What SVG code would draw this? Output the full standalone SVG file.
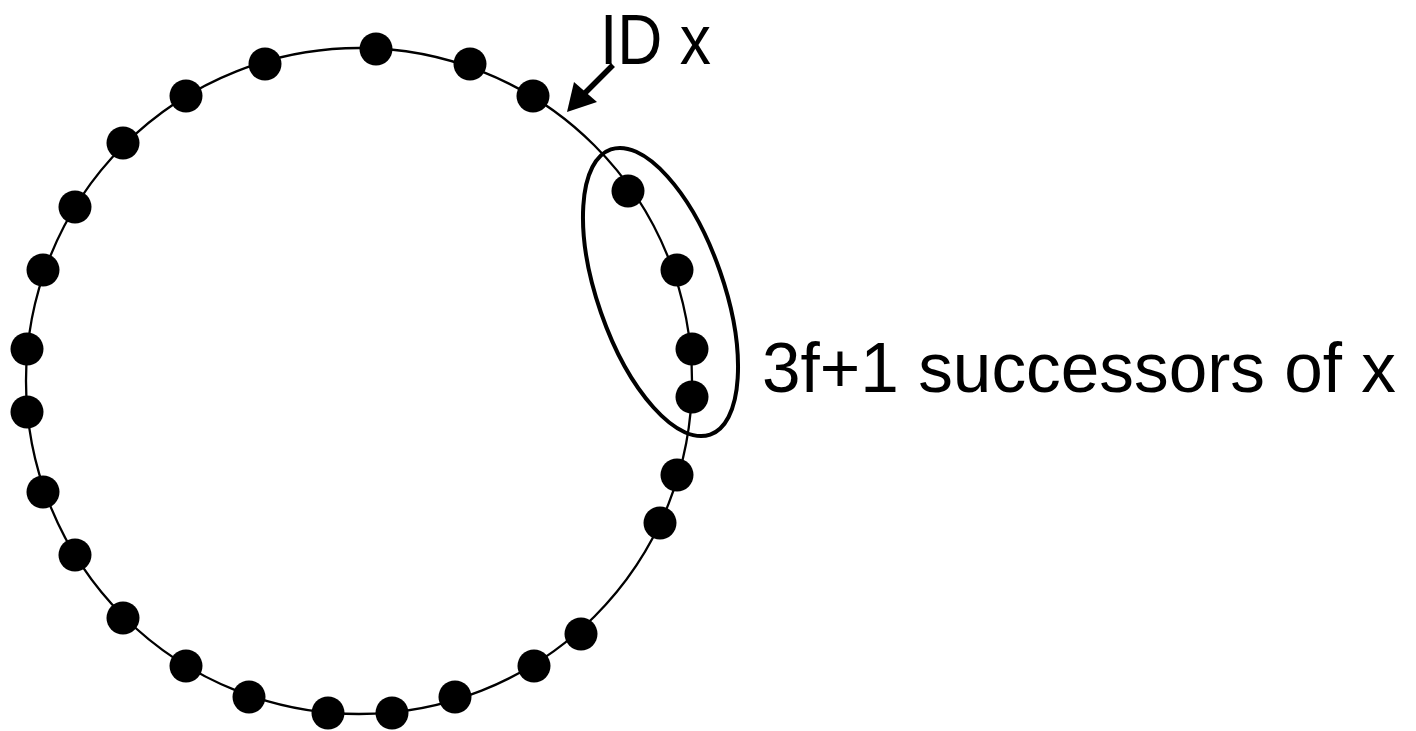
<svg xmlns="http://www.w3.org/2000/svg" width="1416" height="731" viewBox="0 0 1416 731">
<style>
.ring{fill:none;stroke:#000;stroke-width:2.3}
.dot{fill:#000}
.lbl{font-family:"Liberation Sans",Arial,sans-serif;fill:#000}
</style>
<rect width="1416" height="731" fill="#fff"/>
<g id="ring">
<circle class="ring" cx="359" cy="381" r="333"/>
</g>
<g id="nodes">
<circle class="dot" cx="376" cy="49" r="16.5"/>
<circle class="dot" cx="265" cy="64" r="16.5"/>
<circle class="dot" cx="470" cy="64" r="16.5"/>
<circle class="dot" cx="186" cy="96" r="16.5"/>
<circle class="dot" cx="533" cy="96" r="16.5"/>
<circle class="dot" cx="123" cy="143" r="16.5"/>
<circle class="dot" cx="75" cy="207" r="16.5"/>
<circle class="dot" cx="43" cy="270" r="16.5"/>
<circle class="dot" cx="27" cy="349" r="16.5"/>
<circle class="dot" cx="27" cy="412" r="16.5"/>
<circle class="dot" cx="43" cy="492" r="16.5"/>
<circle class="dot" cx="75" cy="555" r="16.5"/>
<circle class="dot" cx="123" cy="618" r="16.5"/>
<circle class="dot" cx="186" cy="666" r="16.5"/>
<circle class="dot" cx="249" cy="697" r="16.5"/>
<circle class="dot" cx="328" cy="713" r="16.5"/>
<circle class="dot" cx="392" cy="713" r="16.5"/>
<circle class="dot" cx="455" cy="697" r="16.5"/>
<circle class="dot" cx="534" cy="666" r="16.5"/>
<circle class="dot" cx="581" cy="634" r="16.5"/>
<circle class="dot" cx="660" cy="523" r="16.5"/>
<circle class="dot" cx="677" cy="475" r="16.5"/>
<circle class="dot" cx="692" cy="397" r="16.5"/>
<circle class="dot" cx="692" cy="349" r="16.5"/>
<circle class="dot" cx="677" cy="270" r="16.5"/>
<circle class="dot" cx="628" cy="191" r="16.5"/>
</g>
<g id="group-successors">
<ellipse cx="660.5" cy="292" rx="63" ry="151" transform="rotate(-19.2 660.5 292)" fill="none" stroke="#000" stroke-width="4"/>
</g>
<g id="connectors">
<line x1="613" y1="65" x2="584" y2="94" stroke="#000" stroke-width="5.5"/>
<polygon points="567,112 574,82 597,102" fill="#000"/>
</g>
<g id="label-id">
<text class="lbl" x="600" y="64" font-size="70" textLength="111" lengthAdjust="spacingAndGlyphs">ID x</text>
</g>
<g id="label-successors">
<text class="lbl" x="762" y="392" font-size="70" textLength="634" lengthAdjust="spacingAndGlyphs">3f+1 successors of x</text>
</g>
</svg>
